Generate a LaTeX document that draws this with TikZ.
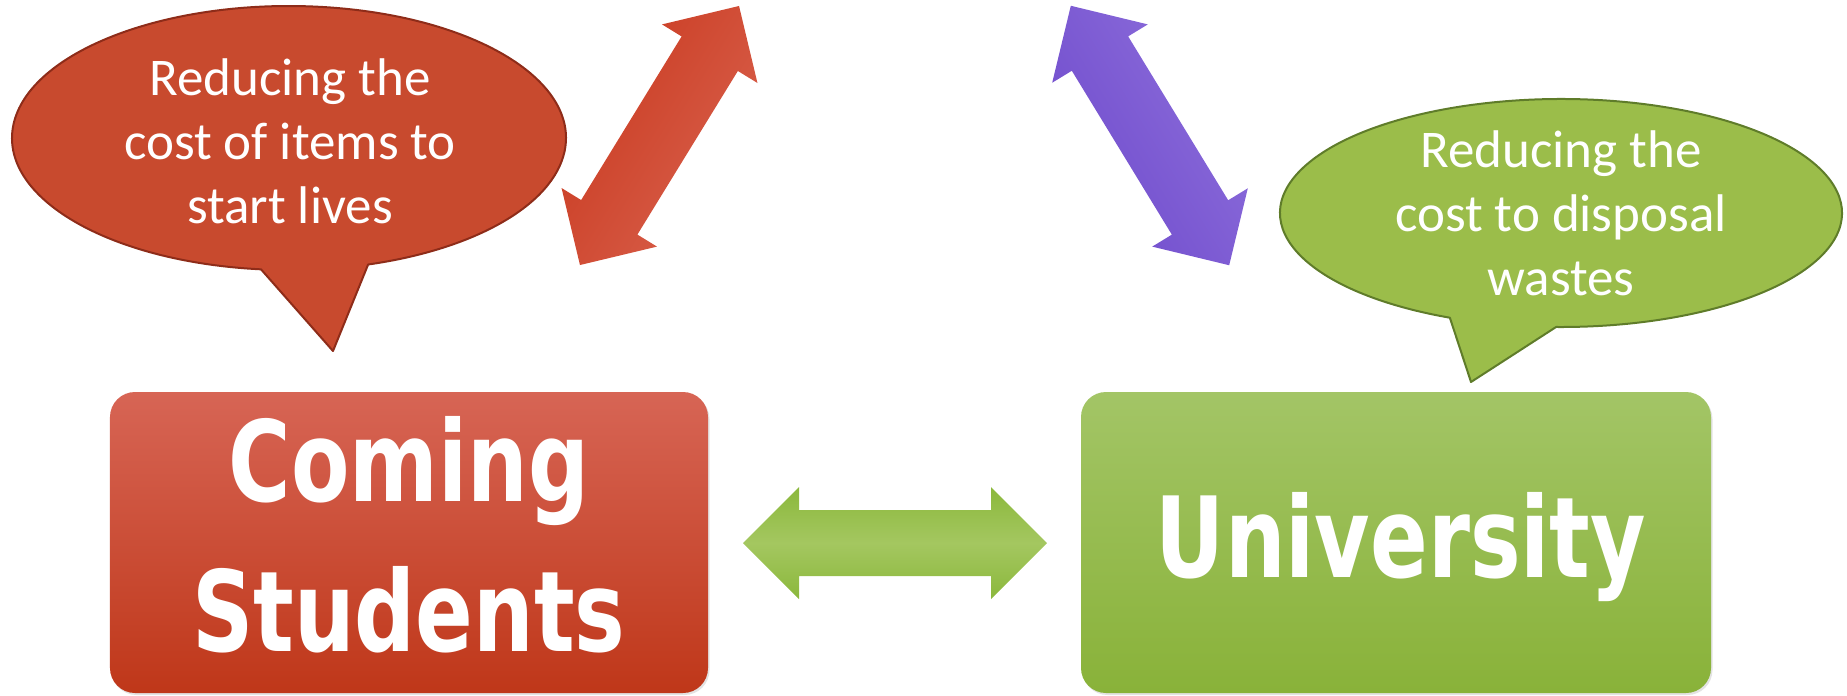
\documentclass[tikz,border=0pt]{standalone}
\usepackage{fontspec}
\usepackage{graphicx}
\setmainfont{Carlito}
\newfontfamily\boxfont{DejaVu Sans}
\usetikzlibrary{calc,shadows}
\definecolor{redTop}{HTML}{D76555}
\definecolor{redBot}{HTML}{BF3719}
\definecolor{grnTop}{HTML}{A3C566}
\definecolor{grnBot}{HTML}{89B239}
\definecolor{redCall}{HTML}{C84A2E}
\definecolor{redEdge}{HTML}{8E2C19}
\definecolor{grnCall}{HTML}{9BBD4A}
\definecolor{grnEdge}{HTML}{5F7C2A}
\definecolor{redArD}{HTML}{C93A20}
\definecolor{redArL}{HTML}{D9614D}
\definecolor{purArD}{HTML}{6F4BCC}
\definecolor{purArL}{HTML}{8D6EDB}
\definecolor{grnArD}{HTML}{8BB83C}
\definecolor{grnArL}{HTML}{A4C760}
\newcommand{\cond}[1]{\scalebox{0.76}[1]{#1}}
\begin{document}
\begin{tikzpicture}[x=0.4pt,y=-0.4pt,
  boxstyle/.style={rectangle, rounded corners=10pt, minimum height=120.4pt, inner sep=0pt,
    drop shadow={shadow xshift=0.6pt, shadow yshift=-0.8pt, opacity=0.22}},
  boxtext/.style={font=\boxfont\bfseries\fontsize{44.8}{50}\selectfont, text=white, inner sep=0pt, anchor=base},
  calltext/.style={font=\fontsize{21.2}{25.6}\selectfont, text=white, align=center, inner sep=0pt},
  callred/.style={fill=redCall, draw=redEdge, line width=0.8pt, line join=round},
  callgrn/.style={fill=grnCall, draw=grnEdge, line width=0.8pt, line join=round}]
\useasboundingbox (0,0) rectangle (1847,695);

% boxes
\node[boxstyle, minimum width=239.2pt, top color=redTop, bottom color=redBot] (students) at (409,542.5) {};
\node[boxstyle, minimum width=252pt, top color=grnTop, bottom color=grnBot] (univ) at (1396,542.5) {};
\node[boxtext] (coming) at ($(students.center)+(0,-41.5)$) {\cond{Coming}};
\node[boxtext] (stud) at ($(students.center)+(0,108.5)$) {\cond{Students}};
\node[boxtext] (unitext) at ($(univ.center)+(5,34.5)$) {\cond{University}};

% callouts
\coordinate (rc) at (289,138);
\coordinate (rtip) at (333,351);
\draw[callred] (rc) ++(95.8:277 and 132) arc[start angle=95.8, end angle=433.4, x radius=277, y radius=132] -- (rtip) -- cycle;
\coordinate (gc) at (1561,213);
\coordinate (gtip) at (1471,382);
\draw[callgrn] (gc) ++(113.3:281 and 114) arc[start angle=113.3, end angle=451, x radius=281, y radius=114] -- (gtip) -- cycle;
\node[calltext] (rtext) at (290,141) {Reducing the\\cost of items to\\start lives};
\node[calltext] (gtext) at (1561,213) {Reducing the\\cost to disposal\\wastes};

% arrows
\begin{scope}[shift={(659.5,135.5)}, rotate=58.45]
  \shade[shading=axis, top color=redArD, bottom color=redArL, shading angle=58.45] (-152,0) -- (-96,56) -- (-96,33) -- (96,33) -- (96,56) -- (152,0) -- (96,-56) -- (96,-33) -- (-96,-33) -- (-96,-56) -- cycle;
\end{scope}
\begin{scope}[shift={(1150,135.5)}, rotate=-58.6]
  \shade[shading=axis, top color=purArL, bottom color=purArD, shading angle=-58.6] (-152,0) -- (-96,56) -- (-96,33) -- (96,33) -- (96,56) -- (152,0) -- (96,-56) -- (96,-33) -- (-96,-33) -- (-96,-56) -- cycle;
\end{scope}
\begin{scope}[shift={(895,543)}]
  \shade[top color=grnArD, bottom color=grnArD, middle color=grnArL] (-152,0) -- (-96,56) -- (-96,33) -- (96,33) -- (96,56) -- (152,0) -- (96,-56) -- (96,-33) -- (-96,-33) -- (-96,-56) -- cycle;
\end{scope}
\end{tikzpicture}
\end{document}
